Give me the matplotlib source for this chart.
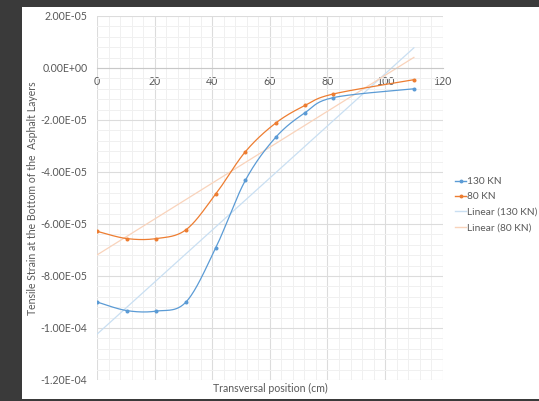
import numpy as np
import matplotlib.pyplot as plt
from matplotlib.ticker import MultipleLocator, FuncFormatter
from matplotlib.patches import Rectangle

# values (strain, x in cm)
position = [0, 10.3, 20.6, 30.9, 41.2, 51.5, 62.0, 72.2, 82.0, 110.0]
strain_130 = [-9.00e-5, -9.33e-5, -9.35e-5, -9.00e-5, -6.92e-5, -4.32e-5,
              -2.67e-5, -1.72e-5, -1.14e-5, -0.80e-5]
strain_80 = [-6.28e-5, -6.56e-5, -6.56e-5, -6.22e-5, -4.85e-5, -3.22e-5,
             -2.12e-5, -1.44e-5, -1.00e-5, -0.45e-5]

x_ticks = [0, 20, 40, 60, 80, 100, 120]

blue = '#5b9bd5'
orange = '#ed7d31'
fs = 7.6


def smooth(xs, ys, n=30):
    # excel-like smoothed line (catmull-rom bezier)
    p = np.column_stack([xs, ys])
    p = np.vstack([p[0], p, p[-1]])
    out = []
    t = np.linspace(0, 1, n)[:, None]
    for i in range(1, len(p) - 2):
        b0 = p[i]
        b3 = p[i + 1]
        b1 = p[i] + (p[i + 1] - p[i - 1]) / 6
        b2 = p[i + 1] - (p[i + 2] - p[i]) / 6
        seg = ((1 - t) ** 3) * b0 + 3 * ((1 - t) ** 2) * t * b1 + 3 * (1 - t) * t ** 2 * b2 + t ** 3 * b3
        out.append(seg)
    out = np.vstack(out)
    return out[:, 0], out[:, 1]


plt.rcParams['font.family'] = ['Lato', 'DejaVu Sans']

fig = plt.figure(figsize=(5.39, 4.01), dpi=100)
fig.patch.set_facecolor('#3a3a3a')
fig.patches.append(Rectangle((22 / 539, 2 / 401), 1, 1 - 9 / 401,
                             transform=fig.transFigure, facecolor='white',
                             edgecolor='none', zorder=-10))

ax = fig.add_axes([97 / 539, 1 - 380 / 401, (442.7 - 97) / 539, (380 - 16) / 401])
ax.set_facecolor('white')

# trendlines
xs = np.array(position)
xl = np.array([position[0], position[-1]])
for ys, c in [(strain_130, '#c9dff2'), (strain_80, '#f9d3bb')]:
    k, b = np.polyfit(xs, np.array(ys), 1)
    ax.plot(xl, k * xl + b, color=c, lw=0.9, zorder=2)

sx, sy = smooth(position, strain_130)
ax.plot(sx, sy, color=blue, lw=0.9, zorder=3)
ax.plot(position, strain_130, 'o', color=blue, ms=1.9, zorder=4)
sx, sy = smooth(position, strain_80)
ax.plot(sx, sy, color=orange, lw=0.9, zorder=3)
ax.plot(position, strain_80, 'o', color=orange, ms=1.9, zorder=4)

ax.set_xlim(0, 120)
ax.set_ylim(-1.2e-4, 2e-5)
ax.set_xticks(x_ticks)
ax.xaxis.set_minor_locator(MultipleLocator(4))
ax.yaxis.set_major_locator(MultipleLocator(2e-5))
ax.yaxis.set_minor_locator(MultipleLocator(4e-6))
ax.yaxis.set_major_formatter(FuncFormatter(lambda v, p: f'{v:.2E}'))
ax.grid(which='major', color='#dcdcdc', lw=0.8)
ax.grid(which='minor', color='#f0f0f0', lw=0.7)
ax.set_axisbelow(True)

for s in ['top', 'right', 'left']:
    ax.spines[s].set_visible(False)
ax.spines['bottom'].set_position(('data', 0))
ax.spines['bottom'].set_color('#c8c8c8')
ax.spines['bottom'].set_linewidth(0.8)
ax.tick_params(which='both', length=0, labelsize=fs, labelcolor='#595959')
ax.tick_params(axis='y', pad=7)
ax.tick_params(axis='x', pad=6)

fig.text(33 / 539, 1 - 198 / 401, 'Tensile Strain at the Bottom of the  Asphalt Layers',
         rotation=90, ha='center', va='center', fontsize=fs, color='#595959')
fig.text(270 / 539, 1 - 388 / 401, 'Transversal position (cm)',
         ha='center', va='center', fontsize=fs, color='#595959')

# legend
h = [plt.Line2D([], [], color=blue, lw=1, marker='o', ms=1.8),
     plt.Line2D([], [], color=orange, lw=1, marker='o', ms=1.8),
     plt.Line2D([], [], color='#c9dff2', lw=1),
     plt.Line2D([], [], color='#f9d3bb', lw=1)]
leg = fig.legend(h, ['130 KN', '80 KN', 'Linear (130 KN)', 'Linear (80 KN)'],
                 loc='upper left', bbox_to_anchor=(455 / 539, 1 - 177 / 401),
                 frameon=False, fontsize=7.3, handlelength=1.1, handletextpad=0.1,
                 labelspacing=0.62, borderaxespad=0, borderpad=0)
for t in leg.get_texts():
    t.set_color('#595959')

fig.savefig('out.png', dpi=100, facecolor=fig.get_facecolor())
